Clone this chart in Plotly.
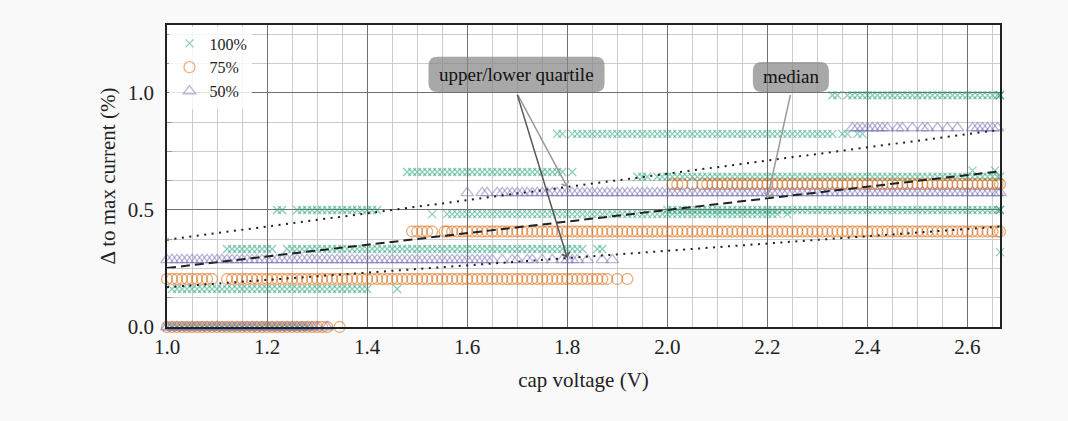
import plotly.graph_objects as go
import numpy as np

FONT = "Liberation Serif"

# ---------------- data ----------------
# each series: list of (y level, x values)
rows_100 = [
    (0.000, [1.00,1.01,1.02,1.03,1.04,1.05,1.06,1.07,1.08,1.09,1.10,1.11,1.12,1.13,1.14,1.15,1.16,1.17,1.18,1.19,1.20,1.21,1.22,1.23,1.24,1.25,1.26,1.27,1.28]),
    (0.162, [1.01,1.02,1.03,1.04,1.05,1.06,1.07,1.08,1.09,1.10,1.11,1.12,1.13,1.14,1.15,1.16,1.17,1.18,1.19,1.20,1.21,1.22,1.23,1.24,1.25,1.26,1.27,1.28,1.29,1.30,1.31,1.32,1.33,1.34,1.35,1.36,1.37,1.38,1.39,1.40,1.46]),
    (0.333, [1.12,1.13,1.14,1.15,1.16,1.17,1.18,1.19,1.20,1.21,1.24,1.25,1.26,1.27,1.28,1.29,1.30,1.31,1.32,1.33,1.34,1.35,1.36,1.37,1.38,1.39,1.40,1.41,1.42,1.43,1.44,1.45,1.46,1.47,1.48,1.49,1.50,1.51,1.52,1.53,1.54,1.55,1.56,1.57,1.58,1.59,1.60,1.61,1.62,1.63,1.64,1.65,1.66,1.67,1.68,1.69,1.70,1.71,1.72,1.73,1.74,1.75,1.76,1.77,1.78,1.79,1.80,1.81,1.82,1.83,1.86,1.87]),
    (0.500, [1.22,1.23,1.26,1.27,1.28,1.29,1.30,1.31,1.32,1.33,1.34,1.35,1.36,1.37,1.38,1.39,1.40,1.41,1.42]),
    (0.482, [1.53,1.56,1.57,1.58,1.59,1.60,1.61,1.62,1.63,1.64,1.65,1.66,1.67,1.68,1.69,1.70,1.71,1.72,1.73,1.74,1.75,1.76,1.77,1.78,1.79,1.80,1.81,1.82,1.83,1.84,1.85,1.86,1.87,1.88,1.89,1.90,1.91,1.92,1.93,1.94,1.95,1.96,1.97,1.98,1.99,2.00,2.01,2.02,2.03,2.04,2.05,2.06,2.07,2.08,2.09,2.10,2.11,2.12,2.13,2.14,2.15,2.16,2.17,2.18,2.19,2.20,2.21,2.22,2.24]),
    (0.500, [2.00,2.01,2.02,2.03,2.04,2.05,2.06,2.07,2.08,2.09,2.10,2.11,2.12,2.13,2.14,2.15,2.16,2.17,2.18,2.19,2.20,2.21,2.22,2.23,2.24,2.25,2.26,2.27,2.28,2.29,2.30,2.31,2.32,2.33,2.34,2.35,2.36,2.37,2.38,2.39,2.40,2.41,2.42,2.43,2.44,2.45,2.46,2.47,2.48,2.49,2.50,2.51,2.52,2.53,2.54,2.55,2.56,2.57,2.58,2.59,2.60,2.61,2.62,2.63,2.64,2.65,2.66,2.665,2.665]),
    (0.662, [1.48,1.49,1.50,1.51,1.52,1.53,1.54,1.55,1.56,1.57,1.58,1.59,1.60,1.61,1.62,1.63,1.64,1.65,1.66,1.67,1.68,1.69,1.70,1.71,1.72,1.73,1.74,1.75,1.76,1.77,1.78,1.79,1.81]),
    (0.825, [1.78,1.79,1.81,1.82,1.83,1.84,1.85,1.86,1.87,1.88,1.89,1.90,1.91,1.92,1.93,1.94,1.95,1.96,1.97,1.98,1.99,2.00,2.01,2.02,2.03,2.04,2.05,2.06,2.07,2.08,2.09,2.10,2.11,2.12,2.13,2.14,2.15,2.16,2.17,2.18,2.19,2.20,2.21,2.22,2.23,2.24,2.25,2.26,2.27,2.28,2.29,2.30,2.31,2.32,2.33,2.35,2.36,2.38,2.39]),
    (0.990, [2.33,2.34,2.36,2.37,2.38,2.39,2.40,2.41,2.42,2.43,2.44,2.45,2.46,2.47,2.48,2.49,2.50,2.51,2.52,2.53,2.54,2.55,2.56,2.57,2.58,2.59,2.60,2.61,2.62,2.63,2.64,2.65,2.66,2.665,2.665]),
    (0.642, [1.94,1.95,1.96,1.98,1.99,2.00,2.01,2.02,2.03,2.04,2.05,2.06,2.07,2.08,2.09,2.10,2.11,2.12,2.13,2.14,2.15,2.16,2.17,2.18,2.19,2.20,2.21,2.22,2.23,2.24,2.25,2.26,2.27,2.28,2.29,2.30,2.31,2.32,2.33,2.34,2.35,2.36,2.37,2.38,2.39,2.40,2.41,2.42,2.43,2.44,2.45,2.46,2.47,2.48,2.49,2.50,2.51,2.52,2.53,2.54,2.55,2.56,2.57,2.58,2.59,2.60,2.61,2.62,2.63,2.64,2.65,2.66,2.665]),
    (0.668, [2.61,2.655]),
    (0.320, [2.665]),
]

rows_75 = [
    (0.000, [1.00,1.01,1.02,1.03,1.04,1.05,1.06,1.07,1.08,1.09,1.10,1.11,1.12,1.13,1.14,1.15,1.16,1.17,1.18,1.19,1.20,1.21,1.22,1.23,1.24,1.25,1.26,1.27,1.28,1.29,1.30,1.31,1.32,1.345]),
    (0.205, [1.00,1.01,1.02,1.03,1.04,1.05,1.06,1.07,1.08,1.09,1.12,1.13,1.14,1.15,1.16,1.17,1.18,1.19,1.20,1.21,1.22,1.23,1.24,1.25,1.26,1.27,1.28,1.29,1.30,1.31,1.32,1.33,1.34,1.35,1.36,1.37,1.38,1.39,1.40,1.41,1.42,1.43,1.44,1.45,1.46,1.47,1.48,1.49,1.50,1.51,1.52,1.53,1.54,1.55,1.56,1.57,1.58,1.59,1.60,1.61,1.62,1.63,1.64,1.65,1.66,1.67,1.68,1.69,1.70,1.71,1.72,1.73,1.74,1.75,1.76,1.77,1.78,1.79,1.80,1.81,1.82,1.83,1.84,1.85,1.86,1.87,1.88,1.90,1.92]),
    (0.408, [1.49,1.50,1.51,1.52,1.53,1.555,1.56,1.57,1.58,1.59,1.60,1.61,1.62,1.63,1.64,1.65,1.66,1.67,1.68,1.69,1.70,1.71,1.72,1.73,1.74,1.75,1.76,1.77,1.78,1.79,1.80,1.81,1.82,1.83,1.84,1.85,1.86,1.87,1.88,1.89,1.90,1.91,1.92,1.93,1.94,1.95,1.96,1.97,1.98,1.99,2.00,2.01,2.02,2.03,2.04,2.05,2.06,2.07,2.08,2.09,2.10,2.11,2.12,2.13,2.14,2.15,2.16,2.17,2.18,2.19,2.20,2.21,2.22,2.23,2.24,2.25,2.26,2.27,2.28,2.29,2.30,2.31,2.32,2.33,2.34,2.35,2.36,2.37,2.38,2.39,2.40,2.41,2.42,2.43,2.44,2.45,2.46,2.47,2.48,2.49,2.50,2.51,2.52,2.53,2.54,2.55,2.56,2.57,2.58,2.59,2.60,2.61,2.62,2.63,2.64,2.65,2.66,2.665]),
    (0.610, [2.01,2.02,2.03,2.05,2.07,2.08,2.09,2.10,2.11,2.12,2.13,2.14,2.15,2.16,2.17,2.18,2.19,2.20,2.21,2.22,2.23,2.24,2.25,2.26,2.27,2.28,2.29,2.30,2.31,2.32,2.33,2.34,2.35,2.36,2.37,2.38,2.39,2.40,2.41,2.42,2.43,2.44,2.45,2.46,2.47,2.48,2.49,2.50,2.51,2.52,2.53,2.54,2.55,2.56,2.57,2.58,2.59,2.60,2.61,2.62,2.63,2.64,2.65,2.66,2.665]),
]

rows_50 = [
    (0.000, [1.00,1.01,1.02,1.03,1.04,1.05,1.06,1.07,1.08,1.09,1.10,1.11,1.12,1.13,1.14,1.15,1.16,1.17,1.18,1.19,1.20,1.21,1.22,1.23,1.24,1.25,1.26,1.27,1.28,1.29,1.30,1.32]),
    (0.287, [1.00,1.01,1.02,1.03,1.04,1.05,1.06,1.07,1.08,1.09,1.10,1.11,1.12,1.13,1.14,1.15,1.16,1.17,1.18,1.19,1.20,1.21,1.22,1.23,1.24,1.25,1.26,1.27,1.28,1.29,1.30,1.31,1.32,1.33,1.34,1.35,1.36,1.37,1.38,1.39,1.40,1.41,1.42,1.43,1.44,1.45,1.46,1.47,1.48,1.49,1.50,1.51,1.52,1.53,1.54,1.55,1.56,1.57,1.58,1.59,1.60,1.61,1.62,1.63,1.64,1.65,1.67,1.69,1.70,1.72,1.73,1.75,1.77,1.79,1.80,1.81,1.82,1.84,1.87,1.89]),
    (0.573, [1.60,1.63,1.64,1.66,1.67,1.68,1.69,1.70,1.71,1.72,1.73,1.74,1.75,1.76,1.77,1.78,1.79,1.80,1.81,1.82,1.83,1.84,1.85,1.86,1.87,1.88,1.89,1.90,1.91,1.92,1.93,1.94,1.95,1.96,1.97,1.98,1.99,2.00,2.01,2.02,2.03,2.04,2.05,2.06,2.07,2.08,2.09,2.10,2.11,2.12,2.13,2.14,2.15,2.16,2.17,2.18,2.19,2.20,2.21,2.22,2.23,2.24,2.25,2.26,2.27,2.28,2.29,2.30,2.31,2.32,2.33,2.34,2.35,2.36,2.37,2.38,2.39,2.40,2.41,2.42,2.43,2.44,2.45,2.46,2.47,2.48,2.49,2.50,2.51,2.52,2.53,2.54,2.55,2.56,2.57,2.58,2.59,2.60,2.61,2.62,2.63,2.64,2.65,2.66,2.665]),
    (0.850, [2.37,2.38,2.39,2.40,2.41,2.42,2.43,2.44,2.46,2.47,2.49,2.51,2.52,2.54,2.56,2.58,2.61,2.62,2.63,2.64,2.65,2.66]),
]

# fitted lines (value at x = 1.0 and at x = 2.665)
fit_x = [1.0, 2.665]
median_y = [0.252, 0.665]
upper_q_y = [0.373, 0.842]
lower_q_y = [0.170, 0.429]

series_names = ["100%", "75%", "50%"]
series_rows = [rows_100, rows_75, rows_50]
series_colors = ["rgba(27,158,119,0.5)", "rgba(217,95,2,0.5)", "rgba(117,112,179,0.5)"]
series_symbols = ["x-thin-open", "circle-open", "triangle-up-open"]
series_sizes = [8, 11, 11]

# ---------------- figure ----------------
X_RANGE = [1.0, 2.665]
Y_RANGE = [0.0, 1.29]
ML, MR, MT, MB = 167, 68, 25, 94
W, H = 1068, 421
PXX = (W - ML - MR) / (X_RANGE[1] - X_RANGE[0])
PXY = (H - MT - MB) / (Y_RANGE[1] - Y_RANGE[0])

fig = go.Figure()

for name, rows, col, sym, sz in zip(series_names, series_rows, series_colors, series_symbols, series_sizes):
    xs, ys = [], []
    for lvl, xv in rows:
        xs += xv
        ys += [lvl] * len(xv)
    fig.add_trace(go.Scatter(
        x=xs, y=ys, mode="markers", name=name, cliponaxis=False,
        marker=dict(symbol=sym, size=sz, color=col, line=dict(color=col, width=1.3)),
    ))

fig.add_trace(go.Scatter(x=fit_x, y=upper_q_y, mode="lines", showlegend=False,
                         line=dict(color="#222", width=2, dash="2px,5.5px")))
fig.add_trace(go.Scatter(x=fit_x, y=lower_q_y, mode="lines", showlegend=False,
                         line=dict(color="#222", width=2, dash="2px,5.5px")))
fig.add_trace(go.Scatter(x=fit_x, y=median_y, mode="lines", showlegend=False,
                         line=dict(color="#222", width=2, dash="9px,5px")))


def rrect(x0, x1, y0, y1, r):
    rx, ry = r / PXX, r / PXY
    return (f"M{x0+rx},{y0} L{x1-rx},{y0} Q{x1},{y0} {x1},{y0+ry} "
            f"L{x1},{y1-ry} Q{x1},{y1} {x1-rx},{y1} L{x0+rx},{y1} "
            f"Q{x0},{y1} {x0},{y1-ry} L{x0},{y0+ry} Q{x0},{y0} {x0+rx},{y0} Z")


box_fill = "rgba(135,135,135,0.72)"
boxes = [
    # (x0, x1, ybottom, ytop, text)
    (1.5226, 1.8746, 1.004, 1.154, "upper/lower quartile"),
    (2.171, 2.323, 1.004, 1.132, "median"),
]
shapes = []
annotations = []
for x0, x1, yb, yt, txt in boxes:
    shapes.append(dict(type="path", path=rrect(x0, x1, yb, yt, 9), xref="x", yref="y",
                       fillcolor=box_fill, line=dict(width=0), layer="above"))
    annotations.append(dict(x=(x0 + x1) / 2, y=(yb + yt) / 2, xref="x", yref="y",
                            text=txt, showarrow=False,
                            font=dict(family=FONT, size=19, color="#111")))

qx = 1.8
mx = 2.2
arrows = [
    (qx, float(np.interp(qx, fit_x, upper_q_y)), 1.699, 1.0, "#9a9a9a"),
    (qx, float(np.interp(qx, fit_x, lower_q_y)), 1.699, 1.0, "#555555"),
    (mx, float(np.interp(mx, fit_x, median_y)), 2.247, 1.0, "#9a9a9a"),
]
for tx, ty, sx, sy, c in arrows:
    annotations.append(dict(x=tx, y=ty, ax=sx, ay=sy, xref="x", yref="y", axref="x", ayref="y",
                            text=" ", showarrow=True, arrowhead=4, arrowsize=1.0,
                            arrowwidth=1.5, arrowcolor=c, font=dict(size=1)))

fig.update_layout(
    width=W, height=H,
    margin=dict(l=ML, r=MR, t=MT, b=MB),
    paper_bgcolor="#f9f9f9", plot_bgcolor="white",
    font=dict(family=FONT, size=21, color="#222"),
    shapes=shapes, annotations=annotations,
    legend=dict(x=0.003, y=0.995, xanchor="left", yanchor="top",
                bgcolor="rgba(255,255,255,0.8)", font=dict(family=FONT, size=16, color="#222"),
                itemwidth=30, tracegroupgap=0),
)
fig.update_xaxes(
    range=X_RANGE, tick0=1.0, dtick=0.2, tickformat=".1f",
    showgrid=True, gridcolor="#707070", gridwidth=1.4,
    showline=True, linecolor="#222", linewidth=1.6, mirror=True,
    ticks="", zeroline=False,
    tickfont=dict(family=FONT, size=21, color="#222"),
    title=dict(text="cap voltage (V)", font=dict(family=FONT, size=21, color="#222"), standoff=14),
    minor=dict(dtick=0.05, tick0=1.0, showgrid=True, gridcolor="#cccccc", gridwidth=1),
)
fig.update_yaxes(
    range=Y_RANGE, tick0=0.0, dtick=0.5, tickformat=".1f",
    showgrid=True, gridcolor="#707070", gridwidth=1.4,
    showline=True, linecolor="#222", linewidth=1.6, mirror=True,
    ticks="", zeroline=False, ticklabelstandoff=7,
    tickfont=dict(family=FONT, size=21, color="#222"),
    title=dict(text="Δ to max current (%)", font=dict(family=FONT, size=21, color="#222"), standoff=6),
    minor=dict(dtick=0.125, tick0=0.0, showgrid=True, gridcolor="#cccccc", gridwidth=1,
               ticks="inside", ticklen=5, tickcolor="#999"),
)

fig.write_html("out.html")
